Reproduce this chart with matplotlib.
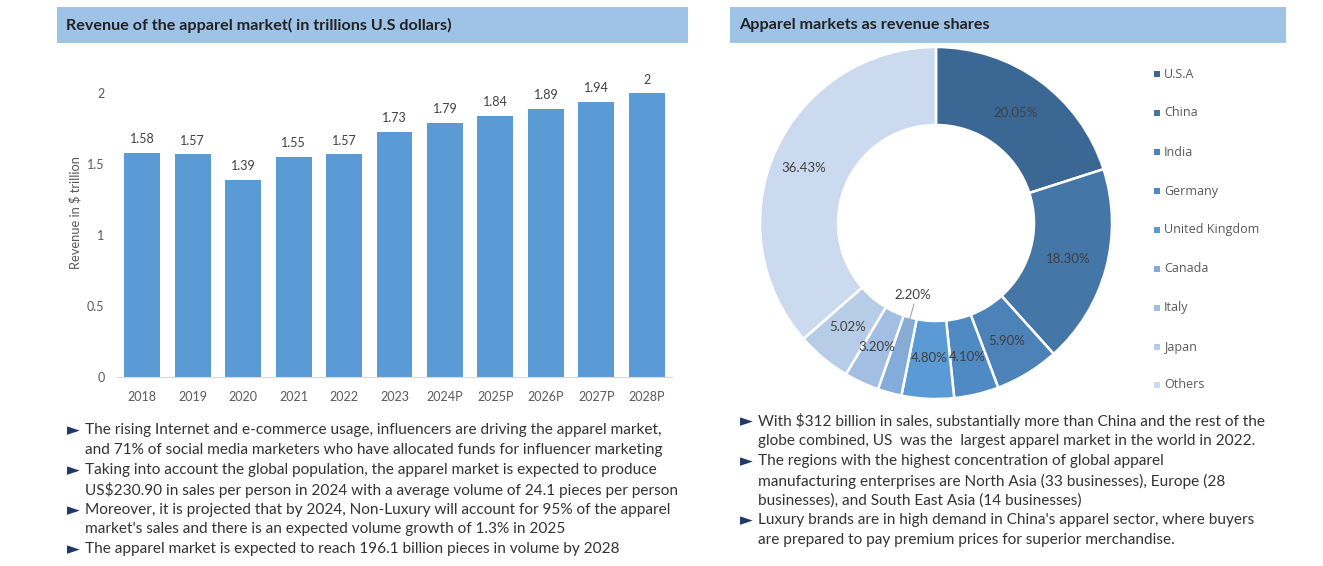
# Apparel market charts: revenue bars and revenue share donut

import matplotlib
matplotlib.use("Agg")
from matplotlib import pyplot as plt
from matplotlib.patches import Rectangle

W, H = 1323, 566

# Data
years = ["2018", "2019", "2020", "2021", "2022", "2023", "2024P", "2025P", "2026P", "2027P", "2028P"]
revenue = [1.58, 1.57, 1.39, 1.55, 1.57, 1.73, 1.79, 1.84, 1.89, 1.94, 2]
y_ticks = [0, 0.5, 1, 1.5, 2]
y_tick_labels = ["0", "0.5", "1", "1.5", "2"]

regions = ["U.S.A", "China", "India", "Germany", "United Kingdom", "Canada", "Italy", "Japan", "Others"]
shares = [20.05, 18.30, 5.90, 4.10, 4.80, 2.20, 3.20, 5.02, 36.43]
share_colors = ["#3b6795", "#4476a8", "#4c82b8", "#4f8ac4", "#5a9bd5", "#84acdb", "#a2bee2", "#b7cce7", "#cbdaee"]

left_title = "Revenue of the apparel market( in trillions U.S dollars)"
right_title = "Apparel markets as revenue shares"

left_notes = [
    (430, True, "The rising Internet and e-commerce usage, influencers are driving the apparel market,"),
    (450, False, "and 71% of social media marketers who have allocated funds for influencer marketing"),
    (470, True, "Taking into account the global population, the apparel market is expected to produce"),
    (490, False, "US$230.90 in sales per person in 2024 with a average volume of 24.1 pieces per person"),
    (510, True, "Moreover, it is projected that by 2024, Non-Luxury will account for 95% of the apparel"),
    (529, False, "market's sales and there is an expected volume growth of 1.3% in 2025"),
    (549, True, "The apparel market is expected to reach 196.1 billion pieces in volume by 2028"),
]
right_notes = [
    (421, True, "With $312 billion in sales, substantially more than China and the rest of the"),
    (441, False, "globe combined, US  was the  largest apparel market in the world in 2022."),
    (461, True, "The regions with the highest concentration of global apparel"),
    (481, False, "manufacturing enterprises are North Asia (33 businesses), Europe (28"),
    (501, False, "businesses), and South East Asia (14 businesses)"),
    (520, True, "Luxury brands are in high demand in China's apparel sector, where buyers"),
    (540, False, "are prepared to pay premium prices for superior merchandise."),
]

plt.rcParams["font.family"] = ["Lato", "DejaVu Sans"]

fig = plt.figure(figsize=(W / 100, H / 100), dpi=100)


def px_axes(x0, y0, x1, y1):
    return fig.add_axes([x0 / W, 1 - y1 / H, (x1 - x0) / W, (y1 - y0) / H])


# Background layer in pixel coordinates for headers and text
bg = fig.add_axes([0, 0, 1, 1])
bg.set_xlim(0, W)
bg.set_ylim(H, 0)
bg.axis("off")

bg.add_patch(Rectangle((57, 7), 631, 36, color="#9fc3e7", lw=0))
bg.add_patch(Rectangle((730, 7), 556, 36, color="#9fc3e7", lw=0))
bg.text(66, 25, left_title, fontsize=11.6, fontweight="bold", color="#222222", va="center")
bg.text(739, 25, right_title, fontsize=11.6, fontweight="bold", color="#222222", va="center")

for notes, x_arrow, x_text, size in [(left_notes, 67, 85, 11.05), (right_notes, 740, 758, 11.05)]:
    for y, arrow, line in notes:
        if arrow:
            bg.text(x_arrow, y, "\u25ba", fontsize=12, color="#1f3864", va="center",
                    family="DejaVu Sans")
        bg.text(x_text, y, line, fontsize=size, color="#333333", va="center")

# Bar chart
ax = px_axes(117, 60, 672, 377)
pos = range(len(years))
ax.bar(pos, revenue, width=0.71, color="#5b9bd5")
for i, v in zip(pos, revenue):
    ax.text(i, v + 0.055, f"{v:g}", ha="center", va="bottom", fontsize=9, color="#404040")
ax.set_xlim(-0.5, len(years) - 0.5)
ax.set_ylim(0, 317 / 141.8)
ax.set_xticks(list(pos), years)
ax.set_yticks(y_ticks, y_tick_labels)
ax.tick_params(length=0, labelsize=9, labelcolor="#595959")
ax.tick_params(axis="x", pad=10)
ax.tick_params(axis="y", pad=9)
ax.set_ylabel("Revenue in $ trillion", fontsize=9.3, color="#595959", labelpad=4, y=0.52)
for side in ["top", "right", "left"]:
    ax.spines[side].set_visible(False)
ax.spines["bottom"].set_color("#d9d9d9")

# Donut chart
r = 176
cx, cy = 936, 223
pie_ax = px_axes(cx - r - 3, cy - r - 3, cx + r + 3, cy + r + 3)
wedges, _ = pie_ax.pie(shares, colors=share_colors, startangle=90, counterclock=False,
                       radius=r / (r + 3), wedgeprops={"width": 78 / (r + 3), "edgecolor": "white", "linewidth": 1.8})
pie_ax.set_xlim(-1, 1)
pie_ax.set_ylim(-1, 1)

# Share labels, placed where the reference has them
label_px = [(1016, 113), (1068, 259), (1007, 341), (967, 357), (929, 358), (913, 295), (877, 347), (848, 327), (804, 168)]
for value, (lx, ly) in zip(shares, label_px):
    pie_ax.text((lx - cx) / (r + 3), (cy - ly) / (r + 3), f"{value:.2f}%", ha="center", va="center",
                fontsize=9.5, color="#404040", zorder=6)
# Leader line for the 2.20% label
pie_ax.plot([(914 - cx) / (r + 3), (900 - cx) / (r + 3)], [(cy - 304) / (r + 3), (cy - 354) / (r + 3)],
            color="#a6a6a6", lw=0.8, zorder=5)

# Legend as separate markers and text
leg_y = [74, 113, 152, 191, 230, 269, 308, 347, 385]
for name, color, y in zip(regions, share_colors, leg_y):
    bg.add_patch(Rectangle((1154, y - 3), 6, 6, color=color, lw=0))
    bg.text(1164, y, name, fontsize=9, color="#595959", va="center", family="Open Sans")

fig.savefig("out.png", dpi=100)
plt.close(fig)
